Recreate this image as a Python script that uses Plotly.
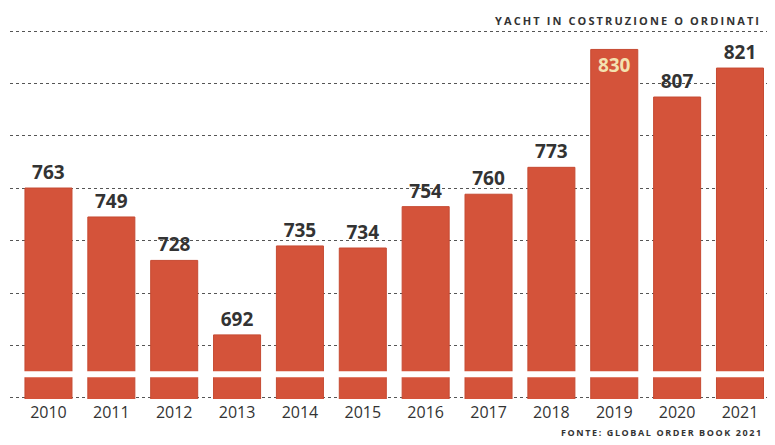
import plotly.graph_objects as go

years = ["2010", "2011", "2012", "2013", "2014", "2015", "2016", "2017", "2018", "2019", "2020", "2021"]
values = [763, 749, 728, 692, 735, 734, 754, 760, 773, 830, 807, 821]
title_text = "YACHT IN COSTRUZIONE O ORDINATI"
source_text = "FONTE: GLOBAL ORDER BOOK 2021"

BAR = "#d4533a"
positions = ["inside" if v == max(values) else "outside" for v in values]

# page body has an 8px default margin: figure is 767x437, placed at (8, 8)
W, H = 767, 437
ML, MR, MT, MB = 2, 0, 22, 46
PW, PH = W - ML - MR, H - MT - MB
plot_bottom = H - MB

fig = go.Figure()
fig.add_trace(go.Bar(
    x=years, y=values,
    marker=dict(color=BAR, line=dict(color="#c64a32", width=1)),
    text=[str(v) for v in values],
    textposition=positions,
    insidetextanchor="end",
    textangle=0,
    constraintext="none",
    cliponaxis=False,
    outsidetextfont=dict(family="Open Sans", size=19, color="#333333", weight="bold"),
    insidetextfont=dict(family="Open Sans", size=19, color="#f3e2b0", weight="bold"),
    hoverinfo="skip",
))

# axis break stripe
fig.add_shape(type="line", xref="paper", x0=0, x1=1, yref="y", y0=673, y1=673,
              line=dict(color="white", width=6), layer="above")

fig.add_annotation(
    xref="paper", yref="paper", x=(493 - 10) / PW, y=(plot_bottom - 12) / PH,
    xanchor="left", yanchor="middle", showarrow=False,
    text='<span style="letter-spacing:2.1px">' + title_text + '</span>',
    font=dict(family="Open Sans", size=11, color="#333333", weight="bold"),
)
fig.add_annotation(
    xref="paper", yref="paper", x=(559 - 10) / PW, y=(plot_bottom - 424.5) / PH,
    xanchor="left", yanchor="middle", showarrow=False,
    text='<span style="letter-spacing:1.6px">' + source_text + '</span>',
    font=dict(family="Open Sans", size=9, color="#333333", weight="bold"),
)

fig.update_layout(
    width=W, height=H,
    margin=dict(l=ML, r=MR, t=MT, b=MB),
    paper_bgcolor="white", plot_bgcolor="white",
    bargap=0.252,
    showlegend=False,
    xaxis=dict(range=[-0.612, 11.557], showgrid=False, zeroline=False, showline=False,
               ticks="", ticklabelstandoff=2,
               tickfont=dict(family="Open Sans", size=16, color="#333333")),
    yaxis=dict(range=[661.0, 839.4], tick0=661.5, dtick=25.34, showticklabels=False,
               showgrid=True, gridcolor="#555555", griddash="dot", gridwidth=1,
               zeroline=False, showline=False, ticks=""),
)

fig.write_html("out.html")
